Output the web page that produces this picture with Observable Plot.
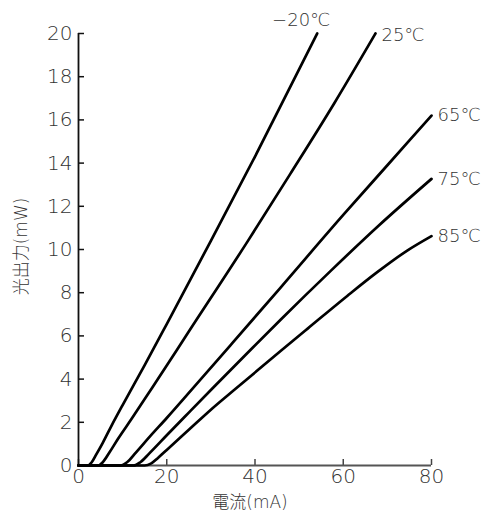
<!DOCTYPE html>
<html><head><meta charset="utf-8">
<script src="https://cdn.jsdelivr.net/npm/d3@7"></script>
<script src="https://cdn.jsdelivr.net/npm/@observablehq/plot@0.6"></script>
<style>body{margin:0;background:#fff}</style>
</head><body><div id="chart"></div>
<script>
// Series labels (temperature)
const seriesNames = ["−20℃", "25℃", "65℃", "75℃", "85℃"];
// Current (mA) and optical output (mW) for each temperature
const currentM20 = [0, 2, 3, 4, 5.5, 7.5, 10, 15, 20, 30, 40, 54.1];
const powerM20   = [0, 0, 0.15, 0.5, 1.05, 1.85, 2.8, 4.65, 6.55, 10.4, 14.3, 20];
const current25  = [0, 4.5, 5.5, 7, 9, 12, 16.7, 25, 38.4, 48, 57.9, 67.3];
const power25    = [0, 0, 0.15, 0.6, 1.25, 2.15, 3.6, 6.2, 10.4, 13.5, 16.75, 20];
const current65  = [0, 9.5, 11, 13, 16, 20, 25.6, 35, 45.8, 60, 70, 80];
const power65    = [0, 0, 0.15, 0.6, 1.3, 2.2, 3.5, 5.7, 8.24, 11.6, 13.9, 16.2];
const current75  = [0, 12.5, 14, 16, 20, 25, 30.5, 38, 45.8, 57.1, 68, 80];
const power75    = [0, 0, 0.15, 0.55, 1.4, 2.45, 3.6, 5.15, 6.75, 9.0, 11.1, 13.27];
const current85  = [0, 15, 16.5, 18, 20, 25, 30, 35.6, 45.8, 52, 60.9, 67.7, 74.5, 80];
const power85    = [0, 0, 0.1, 0.35, 0.72, 1.65, 2.58, 3.55, 5.3, 6.35, 7.85, 8.95, 9.95, 10.62];
// Axis ticks and titles
const xTicks = [0, 20, 40, 60, 80];
const yTicks = [0, 2, 4, 6, 8, 10, 12, 14, 16, 18, 20];
const xTitle = "電流(mA)";
const yTitle = "光出力(mW)";

const xs = [currentM20, current25, current65, current75, current85];
const ys = [powerM20, power25, power65, power75, power85];
const rows = [];
seriesNames.forEach((name, k) => xs[k].forEach((x, i) => rows.push({name, x, y: ys[k][i]})));
const ends = seriesNames.map((name, k) => ({name, x: xs[k][xs[k].length - 1], y: ys[k][ys[k].length - 1]}));

// label offsets (style)
const labelStyle = {
  "−20℃": {dx: -16, dy: -13, anchor: "middle"},
  "25℃": {dx: 6, dy: 2, anchor: "start"},
  "65℃": {dx: 6, dy: 0, anchor: "start"},
  "75℃": {dx: 6, dy: 0, anchor: "start"},
  "85℃": {dx: 6, dy: 0, anchor: "start"}
};

const font = "'DejaVu Sans', 'Noto Sans CJK JP', sans-serif";
const ink = "#333";

const chart = Plot.plot({
  width: 484,
  height: 515,
  marginLeft: 78,
  marginRight: 53,
  marginTop: 33,
  marginBottom: 50,
  style: {fontFamily: font, fontWeight: 200, background: "#fff", color: ink},
  x: {domain: [0, 80]},
  y: {domain: [0, 20]},
  marks: [
    Plot.axisX({ticks: xTicks, tickSize: -6, tickPadding: 9, fontSize: 20, fontWeight: 200, label: null, stroke: "#444", strokeWidth: 1.5}),
    Plot.axisY({ticks: yTicks, tickSize: -6, tickPadding: 12, fontSize: 20, fontWeight: 200, label: null, stroke: "#111", strokeWidth: 1.5}),
    Plot.ruleY([0], {stroke: "#555", strokeWidth: 1.8}),
    Plot.ruleX([0], {stroke: "#111", strokeWidth: 1.8}),
    Plot.line(rows, {x: "x", y: "y", z: "name", stroke: "#000", strokeWidth: 2.7, curve: "monotone-x"}),
    ...seriesNames.map(n => Plot.text(ends.filter(d => d.name === n), {
      x: "x", y: "y", text: "name", dx: labelStyle[n].dx, dy: labelStyle[n].dy,
      textAnchor: labelStyle[n].anchor, fontSize: 18, fontWeight: 200, fill: ink
    })),
    Plot.text([yTitle], {frameAnchor: "left", textAnchor: "middle", rotate: -90, dx: -57, dy: -3, fontSize: 17, fontWeight: 200, fill: ink}),
    Plot.text([xTitle], {frameAnchor: "bottom", textAnchor: "middle", dy: 42, dx: -5, fontSize: 17, fontWeight: 200, fill: ink})
  ]
});
document.getElementById("chart").append(chart);
</script>
</body></html>
